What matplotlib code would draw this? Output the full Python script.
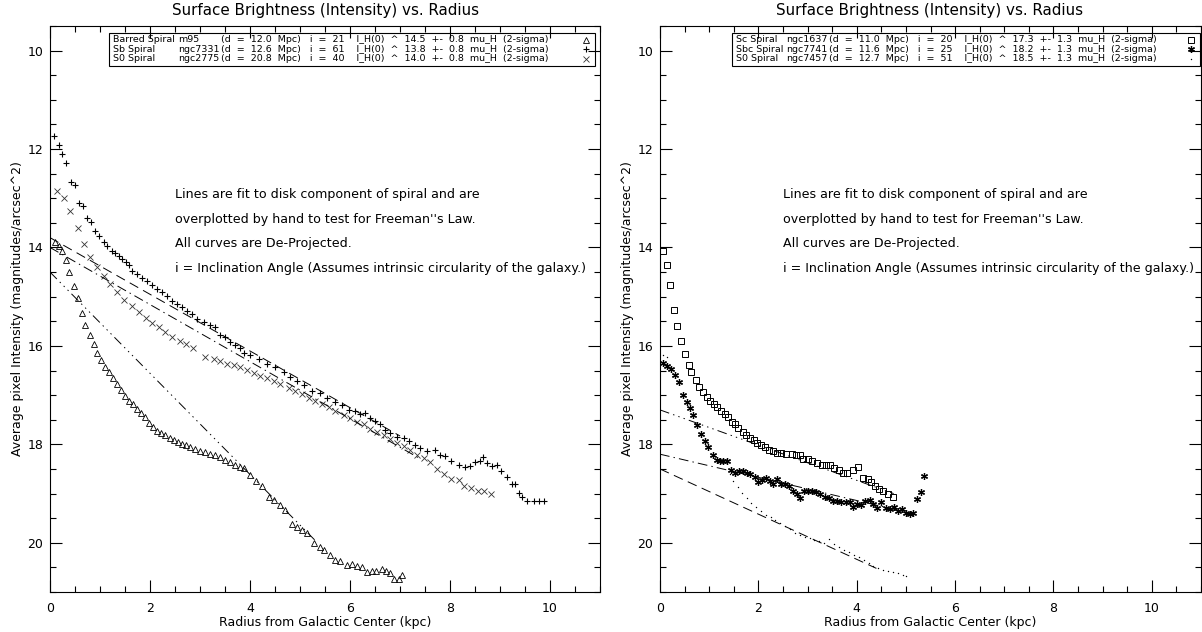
import numpy as np
import matplotlib
matplotlib.use("Agg")
import matplotlib.pyplot as plt
from matplotlib.patches import Rectangle
from matplotlib.lines import Line2D

# ── Surface brightness profiles (radius in kpc, mu_H in mag/arcsec^2) ─────────
# left panel
m95_r = [0.09, 0.17, 0.23, 0.31, 0.38, 0.47, 0.55, 0.63, 0.70, 0.79, 0.87, 0.93,
         1.01, 1.09, 1.17, 1.25, 1.33, 1.41, 1.49, 1.57, 1.65, 1.73, 1.81, 1.89,
         1.97, 2.05, 2.13, 2.21, 2.30, 2.39, 2.47, 2.55, 2.63, 2.72, 2.80, 2.90,
         3.00, 3.10, 3.20, 3.30, 3.40, 3.50, 3.60, 3.70, 3.80, 3.87, 4.00, 4.12,
         4.23, 4.37, 4.47, 4.59, 4.70, 4.83, 4.93, 5.03, 5.13, 5.27, 5.39, 5.48,
         5.59, 5.70, 5.80, 5.93, 6.03, 6.13, 6.23, 6.33, 6.43, 6.52, 6.63, 6.72,
         6.80, 6.88, 6.97, 7.03]
m95_mu = [13.89, 13.97, 14.07, 14.25, 14.49, 14.79, 15.03, 15.33, 15.57, 15.78, 15.97, 16.14,
          16.29, 16.42, 16.54, 16.66, 16.78, 16.90, 17.02, 17.11, 17.19, 17.28, 17.37, 17.45,
          17.57, 17.64, 17.72, 17.77, 17.82, 17.87, 17.91, 17.95, 17.99, 18.02, 18.05, 18.09,
          18.13, 18.16, 18.20, 18.22, 18.26, 18.31, 18.36, 18.41, 18.46, 18.49, 18.63, 18.75,
          18.85, 19.07, 19.14, 19.23, 19.34, 19.61, 19.68, 19.74, 19.81, 20.01, 20.08, 20.15,
          20.24, 20.35, 20.37, 20.46, 20.43, 20.48, 20.50, 20.60, 20.57, 20.58, 20.53, 20.57,
          20.62, 20.73, 20.73, 20.65]

n7331_r = [0.08, 0.17, 0.23, 0.32, 0.42, 0.50, 0.57, 0.65, 0.73, 0.81, 0.90, 0.97,
           1.07, 1.14, 1.23, 1.30, 1.37, 1.43, 1.51, 1.57, 1.63, 1.73, 1.83, 1.93,
           2.03, 2.13, 2.23, 2.33, 2.43, 2.53, 2.63, 2.73, 2.83, 2.93, 3.07, 3.20,
           3.30, 3.40, 3.50, 3.60, 3.70, 3.80, 3.87, 4.00, 4.17, 4.33, 4.50, 4.67,
           4.80, 4.93, 5.07, 5.23, 5.40, 5.53, 5.70, 5.83, 5.97, 6.10, 6.20, 6.30,
           6.40, 6.50, 6.60, 6.70, 6.80, 6.93, 7.07, 7.17, 7.30, 7.40, 7.53, 7.70,
           7.80, 7.90, 8.03, 8.17, 8.30, 8.40, 8.50, 8.60, 8.65, 8.73, 8.83, 8.93,
           9.03, 9.13, 9.23, 9.30, 9.37, 9.43, 9.53, 9.67, 9.77, 9.87]
n7331_mu = [11.74, 11.91, 12.11, 12.29, 12.67, 12.74, 13.10, 13.16, 13.40, 13.49, 13.67, 13.76,
            13.88, 13.97, 14.08, 14.11, 14.17, 14.24, 14.30, 14.36, 14.47, 14.54, 14.63, 14.69,
            14.77, 14.84, 14.91, 14.99, 15.08, 15.15, 15.21, 15.30, 15.36, 15.45, 15.52, 15.58,
            15.62, 15.77, 15.82, 15.92, 15.99, 16.05, 16.14, 16.19, 16.26, 16.36, 16.42, 16.53,
            16.63, 16.71, 16.79, 16.92, 16.96, 17.06, 17.13, 17.20, 17.30, 17.33, 17.39, 17.37,
            17.47, 17.52, 17.59, 17.70, 17.77, 17.86, 17.88, 17.93, 18.01, 18.07, 18.13, 18.11,
            18.22, 18.24, 18.33, 18.42, 18.46, 18.44, 18.36, 18.34, 18.26, 18.38, 18.44, 18.41,
            18.55, 18.67, 18.80, 18.81, 18.98, 19.07, 19.16, 19.16, 19.15, 19.16]

n2775_r = [0.13, 0.27, 0.40, 0.55, 0.67, 0.80, 0.93, 1.07, 1.20, 1.33, 1.47, 1.63,
           1.77, 1.92, 2.03, 2.17, 2.30, 2.43, 2.59, 2.71, 2.85, 3.10, 3.27, 3.40,
           3.53, 3.67, 3.80, 3.93, 4.07, 4.20, 4.33, 4.47, 4.60, 4.77, 4.90, 5.03,
           5.17, 5.30, 5.43, 5.57, 5.70, 5.87, 6.00, 6.13, 6.27, 6.40, 6.53, 6.67,
           6.80, 6.93, 7.07, 7.20, 7.33, 7.47, 7.60, 7.73, 7.87, 8.01, 8.17, 8.28,
           8.41, 8.55, 8.68, 8.81]
n2775_mu = [12.85, 12.99, 13.26, 13.60, 13.93, 14.20, 14.40, 14.57, 14.74, 14.91, 15.06, 15.19,
            15.31, 15.43, 15.54, 15.62, 15.72, 15.82, 15.90, 15.97, 16.04, 16.22, 16.27, 16.31,
            16.36, 16.39, 16.42, 16.49, 16.56, 16.61, 16.66, 16.71, 16.78, 16.85, 16.92, 16.98,
            17.05, 17.12, 17.19, 17.25, 17.32, 17.40, 17.47, 17.54, 17.59, 17.68, 17.74, 17.80,
            17.89, 17.97, 18.04, 18.11, 18.21, 18.28, 18.36, 18.51, 18.60, 18.71, 18.73, 18.85,
            18.88, 18.95, 18.95, 19.00]

# right panel
n1637_r = [0.07, 0.14, 0.20, 0.29, 0.35, 0.43, 0.50, 0.58, 0.64, 0.73, 0.80, 0.88,
           0.95, 1.02, 1.10, 1.16, 1.25, 1.32, 1.39, 1.46, 1.52, 1.59, 1.68, 1.75,
           1.83, 1.91, 1.98, 2.05, 2.13, 2.22, 2.30, 2.38, 2.47, 2.57, 2.68, 2.76,
           2.85, 2.91, 3.01, 3.10, 3.20, 3.29, 3.37, 3.46, 3.54, 3.63, 3.73, 3.81,
           3.92, 4.03, 4.13, 4.23, 4.30, 4.37, 4.46, 4.54, 4.64, 4.73]
n1637_mu = [14.07, 14.35, 14.76, 15.27, 15.60, 15.91, 16.16, 16.38, 16.53, 16.69, 16.83, 16.94,
            17.03, 17.12, 17.19, 17.25, 17.32, 17.39, 17.45, 17.54, 17.59, 17.67, 17.74, 17.81,
            17.88, 17.91, 17.98, 18.02, 18.06, 18.11, 18.14, 18.17, 18.17, 18.20, 18.20, 18.21,
            18.21, 18.29, 18.29, 18.33, 18.38, 18.41, 18.41, 18.42, 18.48, 18.53, 18.58, 18.58,
            18.53, 18.46, 18.68, 18.71, 18.76, 18.85, 18.90, 18.95, 19.00, 19.07]

n7741_r = [0.07, 0.15, 0.22, 0.30, 0.39, 0.46, 0.54, 0.61, 0.68, 0.76, 0.83, 0.91,
           0.98, 1.07, 1.15, 1.22, 1.29, 1.37, 1.44, 1.52, 1.61, 1.69, 1.76, 1.84,
           1.93, 2.00, 2.07, 2.16, 2.24, 2.30, 2.38, 2.47, 2.54, 2.63, 2.71, 2.78,
           2.85, 2.93, 3.01, 3.10, 3.18, 3.26, 3.35, 3.44, 3.52, 3.60, 3.69, 3.78,
           3.86, 3.93, 4.01, 4.08, 4.17, 4.26, 4.34, 4.42, 4.50, 4.59, 4.67, 4.76,
           4.84, 4.93, 5.01, 5.08, 5.15, 5.22, 5.30, 5.37]
n7741_mu = [16.34, 16.40, 16.47, 16.59, 16.74, 17.00, 17.13, 17.27, 17.40, 17.60, 17.79, 17.93,
            18.06, 18.21, 18.31, 18.33, 18.34, 18.33, 18.53, 18.58, 18.55, 18.55, 18.58, 18.61,
            18.67, 18.76, 18.73, 18.69, 18.75, 18.80, 18.71, 18.81, 18.80, 18.85, 18.95, 19.00,
            19.08, 18.94, 18.95, 18.94, 18.96, 19.00, 19.07, 19.10, 19.15, 19.16, 19.18, 19.18,
            19.18, 19.27, 19.22, 19.23, 19.15, 19.14, 19.21, 19.29, 19.18, 19.30, 19.32, 19.27,
            19.35, 19.32, 19.39, 19.42, 19.39, 19.12, 18.96, 18.65]

n7457_r = [0.07, 0.14, 0.71, 1.42, 1.49, 1.58, 1.67, 1.76, 1.86, 1.96, 2.06, 2.16,
           2.25, 2.34, 2.44, 2.54, 2.64, 2.74, 2.84, 2.94, 3.04, 3.14, 3.24, 3.34,
           3.44, 3.54, 3.64, 3.74, 3.84, 3.94, 4.04, 4.14, 4.24, 4.34, 4.44, 4.54,
           4.64, 4.74, 4.84, 4.94, 5.01]
n7457_mu = [16.19, 16.22, 17.57, 18.60, 18.75, 18.86, 18.98, 19.09, 19.19, 19.28, 19.36, 19.43,
            19.48, 19.53, 19.59, 19.66, 19.73, 19.80, 19.85, 19.88, 19.91, 19.94, 19.97, 20.00,
            19.92, 20.02, 20.09, 20.14, 20.19, 20.25, 20.29, 20.35, 20.41, 20.47, 20.51, 20.55,
            20.58, 20.60, 20.62, 20.65, 20.67]

# disk fits drawn by hand: (r_start, r_end), (mu_start, mu_end)
fit_m95   = ([0.0, 5.35], [14.5, 20.0])
fit_n7331 = ([0.0, 7.0], [13.8, 17.83])
fit_n2775 = ([0.0, 7.4], [14.0, 18.29])
fit_n1637 = ([0.0, 4.75], [17.3, 19.0])
fit_n7741 = ([0.0, 5.1], [18.2, 19.4])
fit_n7457 = ([0.0, 4.4], [18.5, 20.52])

# legend rows: type, name, details
left_rows = [
    ("Barred Spiral", "m95", "(d  =  12.0  Mpc)   i  =  21    I_H(0)  ^  14.5  +-  0.8  mu_H  (2-sigma)"),
    ("Sb Spiral", "ngc7331", "(d  =  12.6  Mpc)   i  =  61    I_H(0)  ^  13.8  +-  0.8  mu_H  (2-sigma)"),
    ("S0 Spiral", "ngc2775", "(d  =  20.8  Mpc)   i  =  40    I_H(0)  ^  14.0  +-  0.8  mu_H  (2-sigma)"),
]
right_rows = [
    ("Sc Spiral", "ngc1637", "(d  =  11.0  Mpc)   i  =  20    I_H(0)  ^  17.3  +-  1.3  mu_H  (2-sigma)"),
    ("Sbc Spiral", "ngc7741", "(d  =  11.6  Mpc)   i  =  25    I_H(0)  ^  18.2  +-  1.3  mu_H  (2-sigma)"),
    ("S0 Spiral", "ngc7457", "(d  =  12.7  Mpc)   i  =  51    I_H(0)  ^  18.5  +-  1.3  mu_H  (2-sigma)"),
]
notes = [
    "Lines are fit to disk component of spiral and are",
    "overplotted by hand to test for Freeman''s Law.",
    "All curves are De-Projected.",
    "i = Inclination Angle (Assumes intrinsic circularity of the galaxy.)",
]

TITLE = "Surface Brightness (Intensity) vs. Radius"
XLABEL = "Radius from Galactic Center (kpc)"
YLABEL = "Average pixel Intensity (magnitudes/arcsec^2)"

# ── Styles ────────────────────────────────────────────────────────────────────
plt.rcParams["font.family"] = "DejaVu Sans"
plt.rcParams["lines.scale_dashes"] = False

DASHED = (0, (7, 4))
DASHDOT = (0, (7, 3, 1, 3))
DASH3DOT = (0, (7, 3, 1, 3, 1, 3, 1, 3))

SYM = {
    "tri":   dict(marker="^", ms=4.2, mfc="none", mec="black", mew=0.6),
    "plus":  dict(marker="+", ms=5, mec="black", mew=0.8),
    "cross": dict(marker="x", ms=4, mec="#333333", mew=0.6),
    "sq":    dict(marker="s", ms=4, mfc="none", mec="black", mew=0.7),
    "ast":   dict(marker=(6, 2, 0), ms=5, mec="black", mew=0.9),
    "dot":   dict(marker="o", ms=1.0, mfc="black", mec="black", mew=0),
}

W, H = 1202, 632
fig = plt.figure(figsize=(W / 100, H / 100), dpi=100)
fig.patch.set_facecolor("white")


def fx(x):
    return x / W


def fy(y):
    return 1 - y / H


ax_l = fig.add_axes([fx(50), fy(592), 550 / W, 566 / H])
ax_r = fig.add_axes([fx(660), fy(592), 541 / W, 566 / H])

for ax in (ax_l, ax_r):
    ax.set_xlim(0, 11)
    ax.set_ylim(21, 9.58)
    ax.set_xticks([0, 2, 4, 6, 8, 10])
    ax.set_xticks(np.arange(0, 11.01, 0.5), minor=True)
    ax.set_yticks([10, 12, 14, 16, 18, 20])
    ax.set_yticks(np.arange(9.5, 21.01, 0.5), minor=True)
    ax.tick_params(which="both", direction="in", top=True, right=True,
                   width=0.8, labelsize=9)
    ax.tick_params(which="major", length=8.5)
    ax.tick_params(which="minor", length=4)
    ax.tick_params(axis="x", pad=7.5)
    ax.tick_params(axis="y", pad=5)
    for s in ax.spines.values():
        s.set_linewidth(0.8)
    ax.set_xlabel(XLABEL, fontsize=9, labelpad=0.5)
    ax.set_ylabel(YLABEL, fontsize=9, labelpad=2.5)
    for i, line in enumerate(notes):
        ax.text(2.5, 13.0 + 0.5 * i, line, fontsize=9.1, va="baseline", ha="left")

# left panel
ax_l.plot(m95_r, m95_mu, ls="none", **SYM["tri"])
ax_l.plot(n7331_r, n7331_mu, ls="none", **SYM["plus"])
ax_l.plot(n2775_r, n2775_mu, ls="none", **SYM["cross"])
ax_l.plot(*fit_m95, color="black", lw=0.7, ls=DASH3DOT)
ax_l.plot(*fit_n7331, color="black", lw=0.7, ls=DASHED)
ax_l.plot(*fit_n2775, color="black", lw=0.7, ls=DASHDOT)

# right panel
ax_r.plot(n1637_r, n1637_mu, ls="none", **SYM["sq"])
ax_r.plot(n7741_r, n7741_mu, ls="none", **SYM["ast"])
ax_r.plot(n7457_r, n7457_mu, ls="none", **SYM["dot"])
ax_r.plot(*fit_n1637, color="black", lw=0.7, ls=DASH3DOT)
ax_r.plot(*fit_n7741, color="black", lw=0.7, ls=DASHDOT)
ax_r.plot(*fit_n7457, color="black", lw=0.7, ls=DASHED)

# titles
fig.text(fx(325), fy(10), TITLE, fontsize=10.9, ha="center", va="center")
fig.text(fx(930), fy(10), TITLE, fontsize=10.9, ha="center", va="center")


def draw_key(box, cols, rows, syms):
    x0, y0, x1, y1 = box
    fig.add_artist(Rectangle((fx(x0), fy(y1)), fx(x1) - fx(x0), fy(y0) - fy(y1),
                             transform=fig.transFigure, fill=False,
                             lw=0.8, ec="black"))
    for k, (row, sym) in enumerate(zip(rows, syms)):
        yy = y0 + 6.5 + 9.7 * k
        for cx, txt in zip(cols, row):
            fig.text(fx(cx), fy(yy), txt, fontsize=6.8, ha="left", va="center")
        fig.add_artist(Line2D([fx(x1 - 9)], [fy(yy)], transform=fig.transFigure,
                              ls="none", **SYM[sym]))


draw_key((109, 33, 595, 66), (113, 178, 221), left_rows, ["tri", "plus", "cross"])
draw_key((732, 33, 1200, 66), (736, 786, 829), right_rows, ["sq", "ast", "dot"])

fig.savefig("out.png", dpi=100, facecolor="white")
